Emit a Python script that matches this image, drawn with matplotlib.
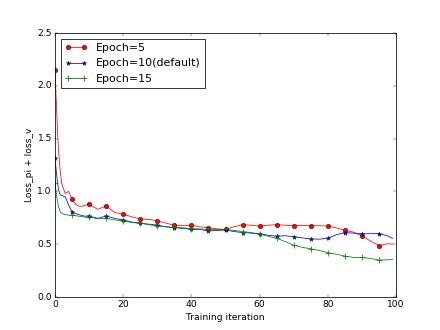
import matplotlib
matplotlib.use('Agg')
from matplotlib import pyplot as plt

plt.style.use('classic')

iters = [0, 0.5, 1, 1.5, 2, 3, 4, 5, 6, 7, 8, 9, 10,
         12.5, 15, 17.5, 20, 22.5, 25, 27.5, 30, 32.5, 35, 37.5, 40,
         42.5, 45, 47.5, 50, 52.5, 55, 57.5, 60, 62.5, 65, 67.5, 70,
         72.5, 75, 77.5, 80, 82.5, 85, 87.5, 90, 92.5, 95, 97.5, 99]

epoch5 = [2.15, 1.75, 1.40, 1.20, 1.07, 0.98, 1.00, 0.925, 0.88, 0.86, 0.86, 0.87, 0.88,
          0.83, 0.862, 0.80, 0.783, 0.76, 0.738, 0.735, 0.723, 0.70, 0.679, 0.675, 0.679,
          0.665, 0.656, 0.645, 0.641, 0.665, 0.685, 0.68, 0.67, 0.68, 0.685, 0.68, 0.675,
          0.677, 0.675, 0.675, 0.672, 0.655, 0.63, 0.615, 0.58, 0.53, 0.486, 0.505, 0.50]

epoch10 = [1.32, 1.15, 1.02, 0.97, 0.96, 0.95, 0.87, 0.808, 0.79, 0.78, 0.77, 0.765, 0.767,
           0.745, 0.767, 0.745, 0.729, 0.71, 0.698, 0.69, 0.68, 0.665, 0.656, 0.65, 0.641,
           0.64, 0.625, 0.63, 0.634, 0.62, 0.61, 0.605, 0.597, 0.585, 0.575, 0.58, 0.571,
           0.56, 0.549, 0.548, 0.555, 0.59, 0.61, 0.605, 0.597, 0.60, 0.60, 0.58, 0.555]

epoch15 = [1.08, 0.95, 0.86, 0.81, 0.79, 0.78, 0.775, 0.776, 0.77, 0.765, 0.76, 0.755, 0.76,
           0.74, 0.745, 0.73, 0.72, 0.705, 0.698, 0.685, 0.672, 0.665, 0.66, 0.655, 0.647,
           0.645, 0.64, 0.638, 0.641, 0.63, 0.62, 0.61, 0.597, 0.575, 0.556, 0.525, 0.49,
           0.47, 0.457, 0.44, 0.42, 0.405, 0.388, 0.375, 0.375, 0.365, 0.35, 0.352, 0.357]

# markers only on every 5th training iteration
marks = [i for i, v in enumerate(iters) if v % 5 == 0]

fig = plt.figure(figsize=(8, 6), dpi=55)
ax = fig.add_subplot(111)
ax.plot(iters, epoch5, 'r-', marker='o', markevery=marks, markeredgecolor='k', label='Epoch=5')
ax.plot(iters, epoch10, 'b-', marker='*', markevery=marks, markeredgecolor='k', label='Epoch=10(default)')
ax.plot(iters, epoch15, 'g-', marker='+', markevery=marks, markersize=8, markeredgewidth=1, label='Epoch=15')

ax.set_xlim(0, 100)
ax.set_ylim(0, 2.5)
ax.set_xlabel('Training iteration')
ax.set_ylabel('Loss_pi + loss_v')
ax.legend(loc='upper left')

fig.savefig('out.png', dpi=55, facecolor='white')
